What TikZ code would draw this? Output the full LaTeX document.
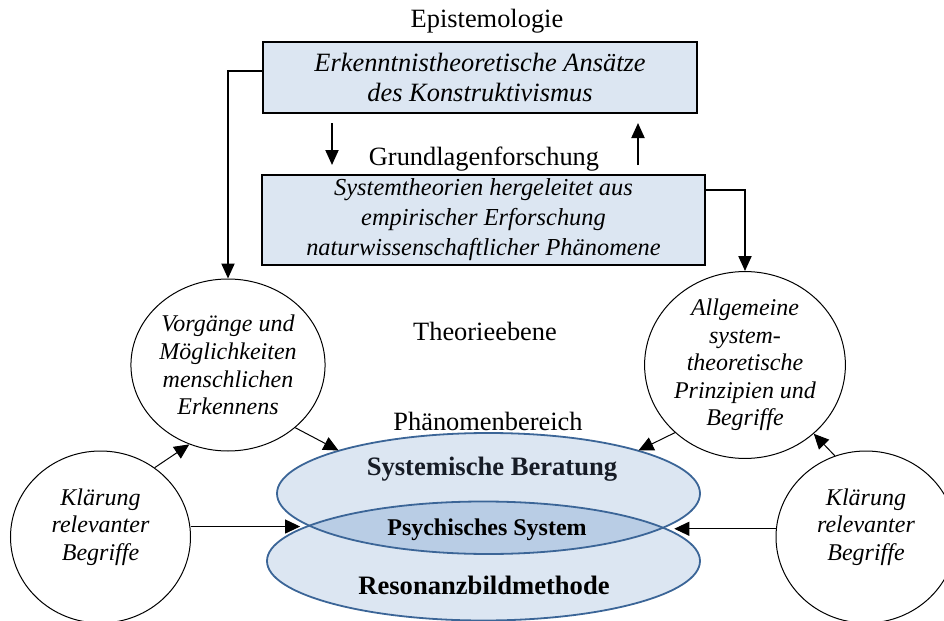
\documentclass[tikz,border=0pt]{standalone}
\usepackage{fontspec}
\setmainfont{Liberation Serif}
\usetikzlibrary{shapes.geometric,arrows.meta,calc}
\definecolor{boxfill}{HTML}{DCE6F2}
\definecolor{lensfill}{HTML}{B9CDE5}
\definecolor{ringline}{HTML}{3B6597}
\definecolor{headtext}{HTML}{171C26}
\begin{document}
\begin{tikzpicture}[x=0.5pt,y=-0.5pt,
  theorybox/.style={draw=black,line width=1pt,fill=boxfill,rectangle,inner sep=0pt,align=center},
  bubble/.style={draw=black,line width=0.5pt,ellipse,minimum width=90pt,minimum height=86pt,inner sep=0pt},
  bubbletext/.style={align=center,font=\fontsize{12}{13.8}\selectfont\itshape},
  level/.style={font=\fontsize{13.2}{15}\selectfont},
  link/.style={line width=0.5pt,-{Triangle[length=7.5pt,width=7pt]}},
  feed/.style={line width=1pt,-{Triangle[length=7.5pt,width=6.5pt]}}
]
\useasboundingbox (0,0) rectangle (944,621);

% level captions
\node[level] (epi) at (487,21) {Epistemologie};
\node[level] (grund) at (484,159) {Grundlagenforschung};
\node[level] (theo) at (485,331) {Theorieebene};
\node[level] (phaen) at (488,421) {Phänomenbereich};

% the two theory boxes
\node[theorybox,minimum width=217pt,minimum height=35.5pt,
      font=\fontsize{13.2}{15}\selectfont\itshape] (tb) at (480,77.5)
  {Erkenntnistheoretische Ansätze\\des Konstruktivismus};
\node[theorybox,minimum width=221.5pt,minimum height=45pt,
      font=\fontsize{12.2}{15}\selectfont\itshape] (lb) at (483.5,220)
  {Systemtheorien hergeleitet aus\\empirischer Erforschung\\naturwissenschaftlicher Phänomene};

% short arrows between the boxes
\coordinate (dnA) at (332,123);
\coordinate (dnB) at (332,165);
\coordinate (upA) at (638,165);
\coordinate (upB) at (638,123);
\draw[feed] (dnA) -- (dnB);
\draw[feed] (upA) -- (upB);

% theory circles
\node[bubble,bubbletext] (vl) at (228,365)
  {Vorgänge und\\Möglichkeiten\\menschlichen\\Erkennens};
\node[bubble,bubbletext] (ar) at (745,365)
  {Allgemeine\\system-\\theoretische\\Prinzipien und\\Begriffe};

% clarification circles
\node[bubble] (kl) at (100.5,537) {};
\node[bubble] (kr) at (866,537) {};
\node[bubbletext] (klt) at ($(kl.center)+(0,-10)$) {Klärung\\relevanter\\Begriffe};
\node[bubbletext] (krt) at ($(kr.center)+(0,-10)$) {Klärung\\relevanter\\Begriffe};

% field of phenomena: two overlapping ellipses
\node[ellipse,inner sep=0pt,fill=boxfill,minimum width=216.5pt,minimum height=59.5pt] (rb) at (483.5,561) {};
\node[ellipse,inner sep=0pt,fill=boxfill,minimum width=211.5pt,minimum height=60.5pt] (ub) at (488.5,493.5) {};
\begin{scope}
  \clip (ub.center) ellipse [x radius=105.75pt,y radius=30.25pt];
  \fill[lensfill] (rb.center) ellipse [x radius=108.25pt,y radius=29.75pt];
\end{scope}
\draw[ringline,line width=0.9pt] (rb.center) ellipse [x radius=108.25pt,y radius=29.75pt];
\draw[ringline,line width=0.9pt] (ub.center) ellipse [x radius=105.75pt,y radius=30.25pt];

\node[font=\fontsize{13.3}{15}\selectfont\bfseries,text=headtext] (sb) at (492,469) {Systemische Beratung};
\node[font=\fontsize{12}{14}\selectfont\bfseries] (ps) at (487,530) {Psychisches System};
\node[font=\fontsize{13.3}{15}\selectfont\bfseries] (rz) at (484,585) {Resonanzbildmethode};

% connectors from the boxes down to the circles
\draw[feed] ($(tb.west)+(0,-7)$) -| (vl.north);
\draw[feed] ($(lb.east)+(0,-30)$) -| (ar.north);

% connectors between circles and ellipses
\draw[link] (vl.-43) -- (ub.164);
\draw[link] (ar.-136) -- (ub.16);
\draw[link] (kl.52) -- (vl.-116);
\draw[link] (kr.111) -- (ar.-45);
\draw[link,shorten >=3pt] (kl.east |- rb.169) -- (rb.169);
\draw[link,shorten >=4pt] (kr.west |- rb.10) -- (rb.10);
\end{tikzpicture}
\end{document}
